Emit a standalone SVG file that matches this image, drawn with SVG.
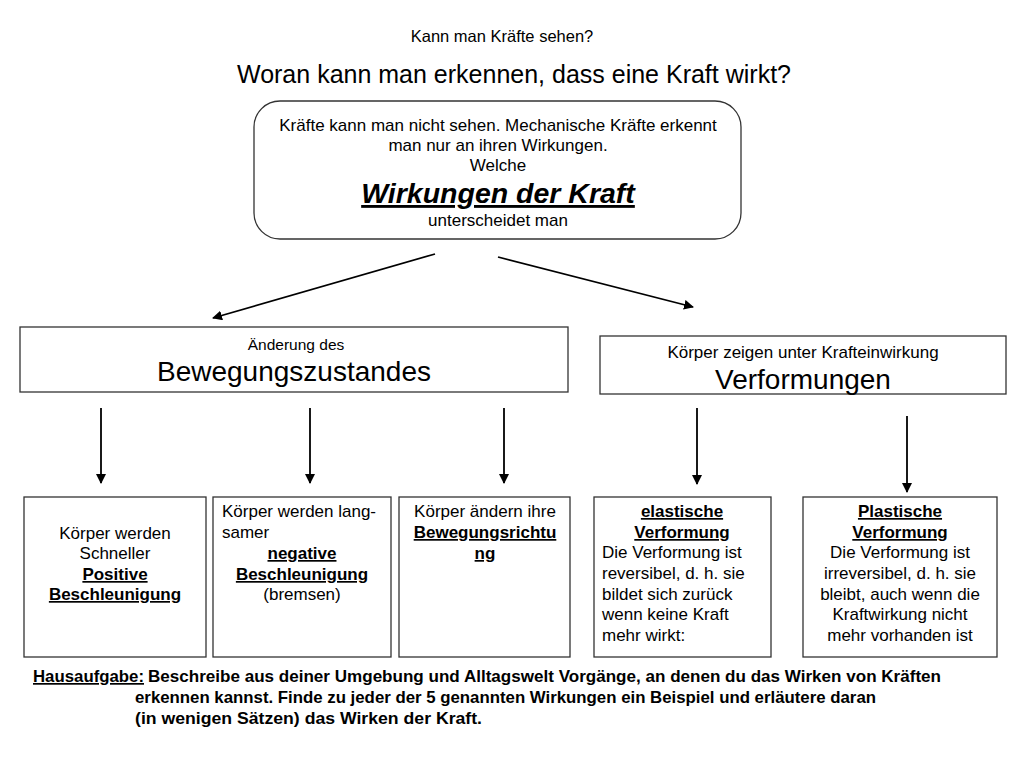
<svg xmlns="http://www.w3.org/2000/svg" width="1024" height="768" viewBox="0 0 1024 768">
<defs>
<marker id="ah" viewBox="0 0 10 10" refX="9" refY="5" markerWidth="10" markerHeight="10" markerUnits="userSpaceOnUse" orient="auto">
<path d="M0,0 L10,5 L0,10 z" fill="#000"/>
</marker>
<style>
text{font-family:"Liberation Sans",Arial,sans-serif;fill:#000}
.box{fill:#fff;stroke:#333;stroke-width:1.3}
.t{font-size:17px}
.c{text-anchor:middle}
.b{font-weight:bold;text-decoration:underline}
.con line{stroke:#000;stroke-width:1.8;marker-end:url(#ah)}
.hw{font-size:17px;font-weight:bold}
</style>
</defs>
<rect width="1024" height="768" fill="#fff"/>
<text x="502" y="42" class="c" font-size="16.5">Kann man Kräfte sehen?</text>
<text x="514" y="83" class="c" font-size="25">Woran kann man erkennen, dass eine Kraft wirkt?</text>

<g id="top">
<rect class="box" x="254" y="101" width="487" height="138" rx="26"/>
<text class="t c" x="498" y="131">Kräfte kann man nicht sehen. Mechanische Kräfte erkennt</text>
<text class="t c" x="498" y="151">man nur an ihren Wirkungen.</text>
<text class="t c" x="498" y="171">Welche</text>
<text class="c" x="498" y="203" font-size="28.5" font-weight="bold" font-style="italic" text-decoration="underline">Wirkungen der Kraft</text>
<text class="t c" x="498" y="226">unterscheidet man</text>
</g>

<g id="bewegung">
<rect class="box" x="20" y="327" width="548" height="65"/>
<text class="c" x="296" y="350" font-size="15.5">Änderung des</text>
<text class="c" x="294" y="381" font-size="28">Bewegungszustandes</text>
</g>

<g id="verformung">
<rect class="box" x="600" y="336" width="406" height="58"/>
<text class="t c" x="803" y="358">Körper zeigen unter Krafteinwirkung</text>
<text class="c" x="803" y="389" font-size="28">Verformungen</text>
</g>

<g id="schneller">
<rect class="box" x="24" y="497" width="182" height="160"/>
<text class="t c" x="115" y="539">Körper werden</text>
<text class="t c" x="115" y="559">Schneller</text>
<text class="t c b" x="115" y="580">Positive</text>
<text class="t c b" x="115" y="600">Beschleunigung</text>
</g>

<g id="langsamer">
<rect class="box" x="213" y="497" width="178" height="160"/>
<text class="t" x="222" y="517">Körper werden lang-</text>
<text class="t" x="222" y="538">samer</text>
<text class="t c b" x="302" y="559">negative</text>
<text class="t c b" x="302" y="580">Beschleunigung</text>
<text class="t c" x="302" y="600">(bremsen)</text>
</g>

<g id="richtung">
<rect class="box" x="399" y="497" width="171" height="160"/>
<text class="t c" x="485" y="517">Körper ändern ihre</text>
<text class="t c b" x="485" y="538">Bewegungsrichtu</text>
<text class="t c b" x="485" y="559">ng</text>
</g>

<g id="elastisch">
<rect class="box" x="594" y="497" width="177" height="160"/>
<text class="t c b" x="682" y="517">elastische</text>
<text class="t c b" x="682" y="538">Verformung</text>
<text class="t" x="602" y="558">Die Verformung ist</text>
<text class="t" x="602" y="579">reversibel, d. h. sie</text>
<text class="t" x="602" y="600">bildet sich zurück</text>
<text class="t" x="602" y="620">wenn keine Kraft</text>
<text class="t" x="602" y="641">mehr wirkt:</text>
</g>

<g id="plastisch">
<rect class="box" x="803" y="497" width="194" height="160"/>
<text class="t c b" x="900" y="517">Plastische</text>
<text class="t c b" x="900" y="538">Verformung</text>
<text class="t c" x="900" y="558">Die Verformung ist</text>
<text class="t c" x="900" y="579">irreversibel, d. h. sie</text>
<text class="t c" x="900" y="600">bleibt, auch wenn die</text>
<text class="t c" x="900" y="620">Kraftwirkung nicht</text>
<text class="t c" x="900" y="641">mehr vorhanden ist</text>
</g>

<g id="connectors" class="con">
<line x1="435" y1="254" x2="213" y2="318"/>
<line x1="498" y1="257" x2="693" y2="307"/>
<line x1="101" y1="408" x2="101" y2="483"/>
<line x1="310" y1="408" x2="310" y2="483"/>
<line x1="504" y1="408" x2="504" y2="483"/>
<line x1="697" y1="408" x2="697" y2="484"/>
<line x1="907" y1="416" x2="907" y2="492"/>
</g>

<g id="hausaufgabe">
<text class="hw" x="33" y="682" text-decoration="underline" textLength="111" lengthAdjust="spacingAndGlyphs">Hausaufgabe:</text>
<text class="hw" x="148" y="682" textLength="793" lengthAdjust="spacingAndGlyphs">Beschreibe aus deiner Umgebung und Alltagswelt Vorgänge, an denen du das Wirken von Kräften</text>
<text class="hw" x="135" y="703" textLength="741" lengthAdjust="spacingAndGlyphs">erkennen kannst. Finde zu jeder der 5 genannten Wirkungen ein Beispiel und erläutere daran</text>
<text class="hw" x="135" y="724" textLength="347" lengthAdjust="spacingAndGlyphs">(in wenigen Sätzen) das Wirken der Kraft.</text>
</g>
</svg>
